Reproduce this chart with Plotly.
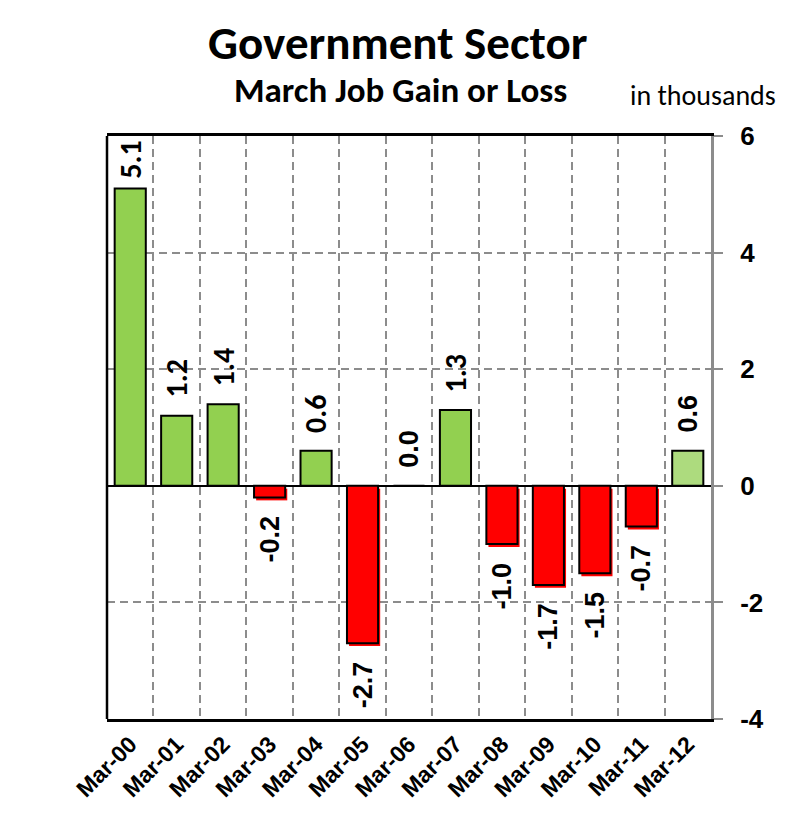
import plotly.graph_objects as go

categories = ["Mar-00", "Mar-01", "Mar-02", "Mar-03", "Mar-04", "Mar-05", "Mar-06",
              "Mar-07", "Mar-08", "Mar-09", "Mar-10", "Mar-11", "Mar-12"]
values = [5.1, 1.2, 1.4, -0.2, 0.6, -2.7, 0.0, 1.3, -1.0, -1.7, -1.5, -0.7, 0.6]
y_ticks = [-4, -2, 0, 2, 4, 6]

GREEN = "#92D050"
GREEN_LAST = "#ADDB7E"
RED = "#FF0000"
GRID = "#8C8C8C"
ARIAL = "Liberation Sans, Arial, sans-serif"
CALIBRI = "Carlito, Lato, sans-serif"

colors = []
for i, v in enumerate(values):
    if i == len(values) - 1:
        colors.append(GREEN_LAST)
    elif v >= 0:
        colors.append(GREEN)
    else:
        colors.append(RED)

BAR_W = 0.67
SH_X, SH_Y = 0.045, 0.05  # small drop shadow offset (category units, value units)

fig = go.Figure()
# soft red drop shadow behind the negative bars
neg_x = [c for c, v in zip(categories, values) if v < 0]
neg_v = [v for v in values if v < 0]
fig.add_trace(go.Bar(
    x=neg_x, y=neg_v, base=-SH_Y,
    width=BAR_W, offset=-BAR_W / 2 + SH_X,
    marker=dict(color=RED, line=dict(width=0)),
    hoverinfo="skip",
))
fig.add_trace(go.Bar(
    x=categories, y=values,
    marker=dict(color=colors, line=dict(color="black", width=2)),
    width=BAR_W, offset=-BAR_W / 2,
    hoverinfo="x+y",
))

calibri_idx = {0, 1, 2, 4, 7}
annotations = []
for i, (c, v) in enumerate(zip(categories, values)):
    fam = CALIBRI if i in calibri_idx else ARIAL
    size = 30 if i in calibri_idx else 27
    pos = v >= 0
    annotations.append(dict(
        x=c, y=v, xref="x", yref="y",
        text=f"{v:.1f}", textangle=-90, showarrow=False,
        font=dict(family=fam, size=size, color="black", weight="bold"),
        yanchor="bottom" if pos else "top",
        yshift=(8 if i == 0 else 16) if pos else -16,
    ))

OFF = 8  # default page margin of the html body
L, R, T, B = 107 - OFF, 77, 136 - OFF, 93
W, H = 788 - OFF, 814 - OFF
pw, ph = W - L - R, H - T - B


def px_to_paper(xp, yp):
    return (xp - OFF - L) / pw, (H - (yp - OFF) - B) / ph


titles = [
    ("<b>Government Sector</b>", 398, 43, 47),
    ("<b>March Job Gain or Loss</b>", 400, 90, 35),
    ("in thousands", 703, 95, 28),
]
for txt, xp, yp, size in titles:
    xx, yy = px_to_paper(xp, yp)
    annotations.append(dict(text=txt, x=xx, y=yy, xref="paper", yref="paper",
                            xanchor="center", yanchor="middle", showarrow=False,
                            font=dict(family=CALIBRI, size=size, color="black")))

fig.update_layout(
    width=W, height=H,
    margin=dict(l=L, r=R, t=T, b=B, pad=0),
    paper_bgcolor="white", plot_bgcolor="white",
    showlegend=False,
    barmode="overlay",
    annotations=annotations,
    shapes=[dict(type="line", xref="paper", yref="paper", x0=0, x1=0, y0=0, y1=1,
                 line=dict(color="black", width=2.5))],
    xaxis=dict(
        type="category",
        categoryorder="array", categoryarray=categories,
        tickson="boundaries",
        showgrid=True, gridcolor=GRID, gridwidth=2, griddash="8px,5px",
        showline=True, linecolor="black", linewidth=2.5, mirror=True,
        ticks="", tickangle=-45,
        tickfont=dict(family=ARIAL, size=23, color="black", weight="bold"),
        range=[-0.5, len(categories) - 0.5],
    ),
    yaxis=dict(
        side="right",
        range=[-4, 6], tickvals=y_ticks, ticktext=[str(t) for t in y_ticks],
        showgrid=True, gridcolor=GRID, gridwidth=2, griddash="8px,5px",
        zeroline=True, zerolinecolor="black", zerolinewidth=2,
        showline=True, linecolor=GRID, linewidth=3,
        ticks="outside", ticklen=9, tickwidth=2, tickcolor=GRID,
        ticklabelstandoff=12,
        tickfont=dict(family=ARIAL, size=26, color="black", weight="bold"),
    ),
)

fig.write_html("out.html")
